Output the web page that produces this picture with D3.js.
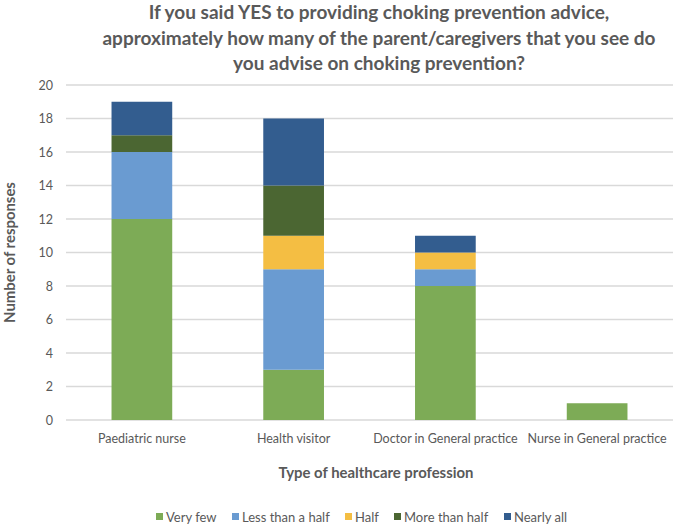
<!DOCTYPE html>
<html>
<head>
<meta charset="utf-8">
<script src="https://cdn.jsdelivr.net/npm/d3@7"></script>
<style>
  body { margin: 0; background: #fff; }
  svg { display: block; font-family: Lato, "Open Sans", sans-serif; }
</style>
</head>
<body>
<svg id="chart" width="674" height="525"></svg>
<script>
const categories = ["Paediatric nurse", "Health visitor", "Doctor in General practice", "Nurse in General practice"];
const seriesNames = ["Very few", "Less than a half", "Half", "More than half", "Nearly all"];
const veryFew = [12, 3, 8, 1];
const lessThanHalf = [4, 6, 1, 0];
const half = [0, 2, 1, 0];
const moreThanHalf = [1, 3, 0, 0];
const nearlyAll = [2, 4, 1, 0];
const yTicks = [0, 2, 4, 6, 8, 10, 12, 14, 16, 18, 20];
const titleLines = ["If you said YES to providing choking prevention advice,",
  "approximately how many of the parent/caregivers that you see do",
  "you advise on choking prevention?"];
const colors = ["#7dab56", "#6a9bd1", "#f4be43", "#4b6632", "#335d8f"];

const seriesValues = [veryFew, lessThanHalf, half, moreThanHalf, nearlyAll];
const table = categories.map((c, i) => {
  const row = { category: c };
  seriesNames.forEach((s, j) => row[s] = seriesValues[j][i]);
  return row;
});

const svg = d3.select("#chart");
const margin = { left: 66, right: 1, top: 85, bottom: 105 };
const W = 674, H = 525;

const x = d3.scaleBand().domain(categories)
  .range([margin.left, W - margin.right]).paddingInner(0.6).paddingOuter(0.3);
const y = d3.scaleLinear().domain([0, 20]).range([H - margin.bottom, margin.top]);

// gridlines
svg.append("g").selectAll("line").data(yTicks).join("line")
  .attr("x1", margin.left).attr("x2", W - margin.right)
  .attr("y1", d => y(d)).attr("y2", d => y(d))
  .attr("stroke", "#d9d9d9").attr("stroke-width", 1.3);

// y axis labels
const yAxis = d3.axisLeft(y).tickValues(yTicks).tickSize(0).tickPadding(13);
const ya = svg.append("g").attr("transform", `translate(${margin.left},0)`).call(yAxis);
ya.select(".domain").remove();
ya.selectAll("text").attr("fill", "#595959").style("font-size", "12.5px").style("font-family", "Lato, sans-serif");

// stacked bars
const stack = d3.stack().keys(seriesNames)(table);
svg.append("g").selectAll("g").data(stack).join("g")
  .attr("fill", (d, i) => colors[i])
  .selectAll("rect").data(d => d).join("rect")
  .attr("x", d => x(d.data.category))
  .attr("width", x.bandwidth())
  .attr("y", d => y(d[1]))
  .attr("height", d => y(d[0]) - y(d[1]));

// x axis labels
const xAxis = d3.axisBottom(x).tickSize(0).tickPadding(14);
const xa = svg.append("g").attr("transform", `translate(0,${y(0)})`).call(xAxis);
xa.select(".domain").remove();
xa.selectAll("text").attr("fill", "#595959").style("font-size", "12.5px").style("font-family", "Lato, sans-serif");

// title
svg.append("g").selectAll("text").data(titleLines).join("text")
  .attr("x", 379).attr("y", (d, i) => 19 + i * 25.5)
  .attr("text-anchor", "middle")
  .attr("fill", "#595959").style("font-weight", "bold").style("font-size", "19px")
  .text(d => d);

// axis titles
svg.append("text").attr("x", 376).attr("y", 478).attr("text-anchor", "middle")
  .attr("fill", "#595959").style("font-weight", "bold").style("font-size", "14.9px")
  .text("Type of healthcare profession");
svg.append("text").attr("transform", `translate(15,${(y(0) + y(20)) / 2}) rotate(-90)`)
  .attr("text-anchor", "middle")
  .attr("fill", "#595959").style("font-weight", "bold").style("font-size", "14.9px")
  .text("Number of responses");

// legend
const legendX = [156, 232, 345, 394, 504];
const lg = svg.append("g").selectAll("g").data(seriesNames).join("g")
  .attr("transform", (d, i) => `translate(${legendX[i]},517)`);
lg.append("rect").attr("x", 0).attr("y", -4).attr("width", 7).attr("height", 7)
  .attr("fill", (d, i) => colors[i]);
lg.append("text").attr("x", 10).attr("y", 4.5)
  .attr("fill", "#595959").style("font-size", "13px").text(d => d);
</script>
</body>
</html>
